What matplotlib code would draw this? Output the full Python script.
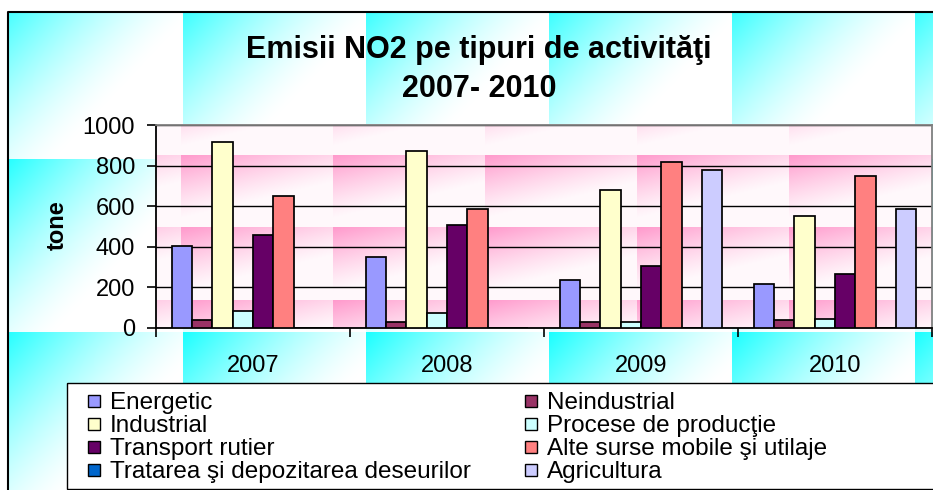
import numpy as np
import matplotlib.pyplot as plt
from matplotlib.patches import Rectangle
from matplotlib import transforms

plt.rcParams['font.family'] = ['Liberation Sans', 'DejaVu Sans']

# categories and series
years = ['2007', '2008', '2009', '2010']
series_names = ['Energetic', 'Neindustrial', 'Industrial', 'Procese de producţie',
                'Transport rutier', 'Alte surse mobile şi utilaje',
                'Tratarea şi depozitarea deseurilor', 'Agricultura']

energetic = [405, 349, 238, 219]
neindustrial = [37, 30, 30, 37]
industrial = [918, 872, 679, 551]
procese = [82, 72, 30, 46]
transport = [459, 505, 303, 267]
alte_surse = [652, 587, 817, 751]
tratarea = [0, 0, 0, 0]
agricultura = [0, 0, 779, 587]

series_values = [energetic, neindustrial, industrial, procese,
                 transport, alte_surse, tratarea, agricultura]
colors = ['#9999FF', '#993366', '#FFFFCC', '#CCFFFF',
          '#660066', '#FF8080', '#0066CC', '#CCCCFF']

W, H = 933, 490
fig = plt.figure(figsize=(W / 100, H / 100), dpi=100)

# background: cyan tiles for the chart area, pink tiles for the plot area
yy, xx = np.mgrid[0:H, 0:W] + 0.5
u = (xx % 183) / 183
v = ((yy + 12) % 172) / 172
t = np.clip(0.85 * u + 0.75 * v, 0, 1)
cyan = np.array([0.1, 1.0, 1.0])
img = 1 - (1 - cyan) * ((1 - t) ** 1.4)[..., None]
img[(xx < 8) | (yy < 12)] = 1

u2 = ((xx - 29) % 152) / 152
v2 = ((yy - 84) % 72) / 72
t2 = np.clip(0.5 * u2 + 1.0 * v2, 0, 1)
pink = np.array([1.0, 0.6, 0.8])
pimg = 1 - (1 - pink) * ((1 - t2) ** 1.3)[..., None]
pimg = np.minimum(pimg, [1.0, 0.975, 0.985])
plot_mask = (xx >= 156) & (xx <= 932) & (yy >= 125) & (yy <= 328)
img[plot_mask] = pimg[plot_mask]
img[(xx >= 67) & (yy >= 383)] = 1

bg = fig.add_axes([0, 0, 1, 1])
bg.imshow(img, extent=(0, W, H, 0), aspect='auto', interpolation='nearest')
bg.set_xlim(0, W)
bg.set_ylim(H, 0)
bg.axis('off')

# chart frame and legend box
bg.plot([8, 8, W], [H, 12, 12], color='black', lw=1.5)
bg.add_patch(Rectangle((67, 383), 900, 106, fill=False, edgecolor='black', lw=1.0))

# title and axis label
bg.text(479, 58, 'Emisii NO2 pe tipuri de activităţi', ha='center', va='baseline',
        fontsize=22, fontweight='bold')
bg.text(479, 97, '2007- 2010', ha='center', va='baseline',
        fontsize=22, fontweight='bold')
bg.text(57, 225, 'tone', rotation=90, ha='center', va='center',
        fontsize=17, fontweight='bold')

# bar chart
ax = fig.add_axes([156 / W, (H - 328) / H, (932 - 156) / W, (328 - 125) / H])
ax.set_facecolor('none')
x = np.arange(len(years))
bw = 0.105
for i, vals in enumerate(series_values):
    ax.bar(x + (i - 3.5) * bw, vals, bw, color=colors[i], edgecolor='black',
           linewidth=1.25, zorder=3)

ax.set_xlim(-0.5, len(years) - 0.5)
ax.set_ylim(0, 1000)
ax.set_yticks(range(0, 1001, 200))
ax.tick_params(axis='y', labelsize=17, length=6.5, width=1.2, pad=8.6)
ax.set_xticks(np.arange(-0.5, len(years), 1.0))
ax.set_xticklabels([])
ax.tick_params(axis='x', length=6.5, width=1.2)
ax.yaxis.grid(True, color='black', lw=1.0)
ax.set_axisbelow(True)
for s in ['left', 'bottom']:
    ax.spines[s].set_color('black')
    ax.spines[s].set_linewidth(1.3)
for s in ['top', 'right']:
    ax.spines[s].set_color('#808080')
    ax.spines[s].set_linewidth(1.3)

# category labels below the axis
tr = transforms.blended_transform_factory(ax.transData, bg.transData)
for xi, yr in zip(x, years):
    ax.text(xi, 371.5, yr, transform=tr, ha='center', va='baseline', fontsize=17)

# legend, two columns
col_x = [88, 525]
row_y = [401, 424, 447, 470]
for i, name in enumerate(series_names):
    cx = col_x[i % 2]
    cy = row_y[i // 2]
    bg.add_patch(Rectangle((cx, cy - 6), 12, 12, facecolor=colors[i],
                           edgecolor='black', lw=1.0))
    bg.text(cx + 22, cy + 8, name, ha='left', va='baseline', fontsize=17.5)

fig.savefig('out.png', dpi=100)
